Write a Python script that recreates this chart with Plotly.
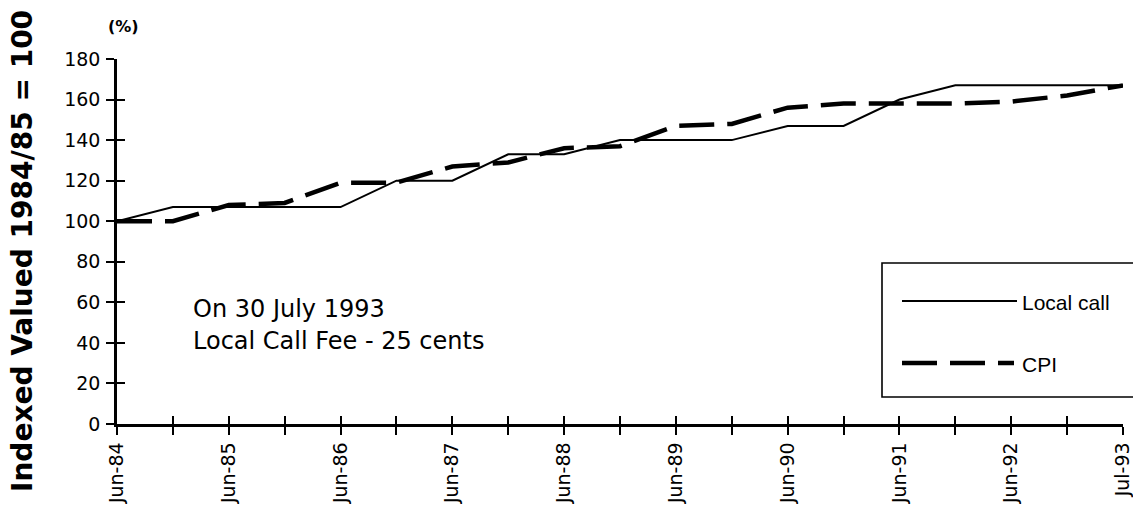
import plotly.graph_objects as go

# Half-yearly observation periods
periods = ["Jun-84", "Dec-84", "Jun-85", "Dec-85", "Jun-86", "Dec-86", "Jun-87",
           "Dec-87", "Jun-88", "Dec-88", "Jun-89", "Dec-89", "Jun-90", "Dec-90",
           "Jun-91", "Dec-91", "Jun-92", "Dec-92", "Jul-93"]

# Index values (1984/85 = 100)
local_call = [100, 107, 107, 107, 107, 120, 120, 133, 133, 140, 140, 140,
              147, 147, 160, 167, 167, 167, 167]
cpi = [100, 100, 108, 109, 119, 119, 127, 129, 136, 137, 147, 148,
       156, 158, 158, 158, 159, 162, 167]

# Only the yearly periods carry a label; every period gets a tick
tick_labels = [p if (i % 2 == 0 or i == len(periods) - 1) else "" for i, p in enumerate(periods)]
y_ticks = list(range(0, 181, 20))

W, H = 1133, 506
ML, MR, MT, MB = 117, 10, 59, 82
PW, PH = W - ML - MR, H - MT - MB


def px_x(px):
    return (px - ML) / PW


def px_y(py):
    return (H - MB - py) / PH


FONT = "DejaVu Sans"

fig = go.Figure()
fig.add_trace(go.Scatter(
    x=periods, y=local_call, mode="lines", name="Local call",
    line=dict(color="black", width=2), showlegend=False))
fig.add_trace(go.Scatter(
    x=periods, y=cpi, mode="lines", name="CPI",
    line=dict(color="black", width=4.5, dash="35px,13px"), showlegend=False))
# empty trace that anchors the inner tick axes
fig.add_trace(go.Scatter(x=periods, y=[None] * len(periods), xaxis="x2", yaxis="y2",
                         mode="lines", showlegend=False, hoverinfo="skip"))

axis_common = dict(showgrid=False, zeroline=False, color="black", tickcolor="black",
                   tickwidth=2, ticklen=8, automargin=False)

fig.update_layout(
    width=W, height=H,
    margin=dict(l=ML, r=MR, t=MT, b=MB, pad=0, autoexpand=False),
    paper_bgcolor="white", plot_bgcolor="white",
    font=dict(family=FONT, color="black"),
    xaxis=dict(type="category", range=[0, len(periods) - 1], tickmode="array",
               tickvals=periods, ticktext=tick_labels, ticks="outside", tickangle=-90,
               showline=True, linecolor="black", linewidth=2.5,
               tickfont=dict(family=FONT, size=19, color="black"), **axis_common),
    yaxis=dict(range=[0, 180], tickmode="array", tickvals=y_ticks, ticks="outside",
               showline=True, linecolor="black", linewidth=2.5, ticklabelstandoff=2,
               tickfont=dict(family=FONT, size=19, color="black"), **axis_common),
    xaxis2=dict(type="category", overlaying="x", side="bottom", range=[0, len(periods) - 1],
                tickmode="array", tickvals=periods, ticktext=[""] * len(periods),
                ticks="inside", showline=False, showticklabels=False, **axis_common),
    yaxis2=dict(overlaying="y", side="left", range=[0, 180], tickmode="array",
                tickvals=y_ticks, ticks="inside", showline=False, showticklabels=False,
                **axis_common),
)

annotations = [
    dict(text="<b>Indexed Valued 1984/85 = 100</b>", x=px_x(22), y=px_y(251),
         textangle=-90, font=dict(family=FONT, size=28)),
    dict(text="<b>(%)</b>", x=px_x(123), y=px_y(27), font=dict(family=FONT, size=16)),
    dict(text="On 30 July 1993", x=px_x(191), y=px_y(309), xanchor="left",
         font=dict(family=FONT, size=24)),
    dict(text="Local Call Fee - 25 cents", x=px_x(191), y=px_y(341), xanchor="left",
         font=dict(family=FONT, size=24)),
    dict(text="Local call", x=px_x(1020), y=px_y(302), xanchor="left",
         font=dict(family="Liberation Sans", size=21)),
    dict(text="CPI", x=px_x(1020), y=px_y(364), xanchor="left",
         font=dict(family="Liberation Sans", size=21)),
]
for a in annotations:
    a.setdefault("xanchor", "center")
    fig.add_annotation(xref="paper", yref="paper", yanchor="middle", showarrow=False, **a)

# legend frame and sample lines
fig.add_shape(type="rect", xref="paper", yref="paper",
              x0=px_x(882), x1=px_x(1145), y0=px_y(397), y1=px_y(263),
              line=dict(color="black", width=1.6), fillcolor="rgba(0,0,0,0)")
fig.add_shape(type="line", xref="paper", yref="paper",
              x0=px_x(902), x1=px_x(1017), y0=px_y(301), y1=px_y(301),
              line=dict(color="black", width=2))
fig.add_shape(type="line", xref="paper", yref="paper",
              x0=px_x(902), x1=px_x(1014), y0=px_y(363), y1=px_y(363),
              line=dict(color="black", width=4.5, dash="35px,13px"))

fig.write_html("out.html")
